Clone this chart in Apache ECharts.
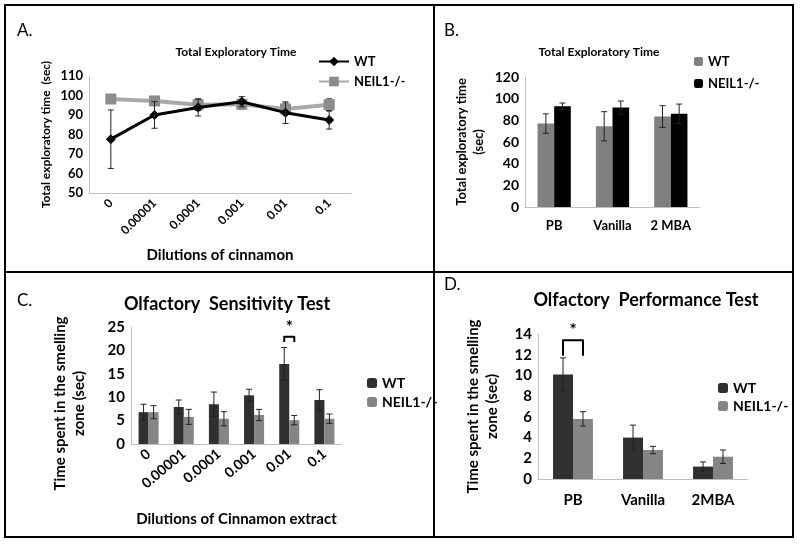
<!DOCTYPE html>
<html>
<head>
<meta charset="utf-8">
<script src="https://cdn.jsdelivr.net/npm/echarts@6/dist/echarts.min.js"></script>
<style>
  html, body { margin: 0; background: #fff; }
  #main { width: 800px; height: 544px; }
</style>
</head>
<body>
<div id="main"></div>
<script>
  // categories
  var dilutions = ['0', '0.00001', '0.0001', '0.001', '0.01', '0.1'];
  var odorsB = ['PB', 'Vanilla', '2 MBA'];
  var odorsD = ['PB', 'Vanilla', '2MBA'];

  // A. total exploratory time, dilutions of cinnamon
  var aWt = [77.6, 90, 93.8, 96.8, 91.2, 87.4];
  var aWtErr = [15, 6.8, 4.3, 2.6, 5.5, 4.6];
  var aKo = [98.2, 97.2, 95.3, 95.5, 93.1, 95.3];
  var aKoErr = [2, 2, 3, 2.5, 3, 3];

  // B. total exploratory time, odors
  var bWt = [77, 74.5, 83.5];
  var bWtErr = [9, 13.5, 10];
  var bKo = [93, 91.8, 86];
  var bKoErr = [3, 6, 9];

  // C. olfactory sensitivity
  var cWt = [6.8, 7.9, 8.5, 10.4, 17.1, 9.4];
  var cWtErr = [1.7, 1.5, 2.6, 1.3, 3.5, 2.2];
  var cKo = [6.8, 5.8, 5.4, 6.2, 5.1, 5.4];
  var cKoErr = [1.4, 1.6, 1.5, 1.2, 1.0, 1.0];

  // D. olfactory performance
  var dWt = [10.1, 4.0, 1.2];
  var dWtErr = [1.6, 1.2, 0.45];
  var dKo = [5.8, 2.8, 2.15];
  var dKoErr = [0.7, 0.35, 0.65];

  // significance brackets: [category index, bracket top, leg end]
  var cSig = [[4, 22.9, 21.8]];
  var dSig = [[0, 13.4, 11.9]];

  var FONT = 'Lato';
  var GAP = 0.43;

  function withErr(vals, errs) {
    return vals.map(function (v, i) { return [i, v, errs[i]]; });
  }

  // side: -1 left bar, 1 right bar, 0 centred (line)
  function errBars(side, cap) {
    return function (params, api) {
      var x = api.value(0), v = api.value(1), e = api.value(2);
      var band = api.size([1, 0])[0];
      var off = side * band * (1 - GAP) / 4;
      var hi = api.coord([x, v + e]);
      var lo = api.coord([x, v - e]);
      var cx = hi[0] + off;
      var st = { stroke: '#222', lineWidth: 1 };
      return {
        type: 'group',
        children: [
          { type: 'line', shape: { x1: cx, y1: hi[1], x2: cx, y2: lo[1] }, style: st },
          { type: 'line', shape: { x1: cx - cap, y1: hi[1], x2: cx + cap, y2: hi[1] }, style: st },
          { type: 'line', shape: { x1: cx - cap, y1: lo[1], x2: cx + cap, y2: lo[1] }, style: st }
        ]
      };
    };
  }

  function sigRender(params, api) {
    var x = api.value(0);
    var band = api.size([1, 0])[0];
    var bw = band * (1 - GAP) / 2;
    var top = api.coord([x, api.value(1)]);
    var leg = api.coord([x, api.value(2)]);
    var x1 = top[0] - bw / 2, x2 = top[0] + bw / 2;
    return {
      type: 'group',
      children: [
        {
          type: 'polyline',
          shape: { points: [[x1, leg[1]], [x1, top[1]], [x2, top[1]], [x2, leg[1]]] },
          style: { stroke: '#000', lineWidth: 2, fill: null, lineJoin: 'round' }
        },
        {
          type: 'text',
          style: {
            text: '*', x: (x1 + x2) / 2, y: top[1] - 1, align: 'center', verticalAlign: 'bottom',
            font: 'bold 17px ' + FONT, fill: '#000'
          }
        }
      ]
    };
  }

  function catAxis(grid, data, size, rotate, margin, name, nameGap) {
    return {
      type: 'category', gridIndex: grid, data: data,
      axisLine: { lineStyle: { color: '#c0c0c0', width: 1 } },
      axisTick: { show: false },
      axisLabel: { color: '#000', fontFamily: FONT, fontWeight: 'bold', fontSize: size, rotate: rotate, margin: margin, interval: 0 },
      name: name, nameLocation: 'middle', nameGap: nameGap,
      nameTextStyle: { color: '#000', fontFamily: FONT, fontWeight: 'bold', fontSize: 15 }
    };
  }

  function valAxis(grid, min, max, step, size, name, nameGap, nameSize, pad) {
    return {
      type: 'value', gridIndex: grid, min: min, max: max, interval: step,
      axisLine: { show: true, lineStyle: { color: '#c0c0c0', width: 1 } },
      axisTick: { show: false },
      splitLine: { show: false },
      axisLabel: { color: '#000', fontFamily: FONT, fontWeight: 'bold', fontSize: size, margin: 6 },
      name: name, nameLocation: 'middle', nameRotate: 90, nameGap: nameGap,
      nameTextStyle: {
        color: '#000', fontFamily: FONT, fontWeight: 'bold', fontSize: nameSize,
        lineHeight: nameSize + 4, padding: pad || 0
      }
    };
  }

  function legendOf(names, left, top, w, h, gap, size) {
    return {
      data: names, orient: 'vertical', left: left, top: top,
      itemWidth: w, itemHeight: h, itemGap: gap, selectedMode: false,
      formatter: function (n) { return n.slice(2); },
      textStyle: { color: '#000', fontFamily: FONT, fontWeight: 'bold', fontSize: size }
    };
  }

  function title(text, left, top, size, weight, align) {
    return {
      text: text, left: left, top: top, textAlign: align || 'left', padding: 0,
      textStyle: { color: '#000', fontFamily: FONT, fontSize: size, fontWeight: weight }
    };
  }

  var chart = echarts.init(document.getElementById('main'));

  var option = {
    animation: false,
    backgroundColor: '#fff',
    title: [
      title('A.', 17, 22, 17, 'normal'),
      title('Total Exploratory Time', 236, 46, 12, 'bold', 'center'),
      title('B.', 444, 22, 17, 'normal'),
      title('Total Exploratory Time', 599, 46, 12, 'bold', 'center'),
      title('C.', 17, 292, 17, 'normal'),
      title('Olfactory  Sensitivity Test', 227, 295, 18, 'bold', 'center'),
      title('D.', 444, 276, 17, 'normal'),
      title('Olfactory  Performance Test', 646, 291, 18, 'bold', 'center')
    ],
    legend: [
      legendOf(['a:WT', 'a:NEIL1-/-'], 313, 50, 30, 12, 7, 13),
      legendOf(['b:WT', 'b:NEIL1-/-'], 689, 50, 9, 9, 9, 13),
      legendOf(['c:WT', 'c:NEIL1-/-'], 362, 371, 10, 10, 5, 14),
      legendOf(['d:WT', 'd:NEIL1-/-'], 713, 376, 10, 10, 4, 14)
    ],
    grid: [
      { left: 89, top: 76, width: 262, height: 117 },
      { left: 525, top: 77, width: 175, height: 130 },
      { left: 131, top: 327, width: 211, height: 117 },
      { left: 538, top: 334, width: 210, height: 145 }
    ],
    xAxis: [
      catAxis(0, dilutions, 12, 45, 8, 'Dilutions of cinnamon', 55),
      catAxis(1, odorsB, 13, 0, 12, '', 0),
      catAxis(2, dilutions, 14, 40, 8, 'Dilutions of Cinnamon extract', 68),
      catAxis(3, odorsD, 15, 0, 14, '', 0)
    ],
    yAxis: [
      valAxis(0, 50, 110, 10, 13, 'Total exploratory time  (sec)', 35, 12),
      valAxis(1, 0, 120, 20, 14, 'Total exploratory time\n(sec)', 38, 13),
      valAxis(2, 0, 25, 5, 15, 'Time spent in the smelling\nzone (sec)', 42, 15, [0, 36, 0, 0]),
      valAxis(3, 0, 14, 2, 15, 'Time spent in the smelling\nzone (sec)', 36, 15)
    ],
    series: [
      // A
      {
        name: 'a:WT', type: 'line', xAxisIndex: 0, yAxisIndex: 0, data: aWt,
        symbol: 'diamond', symbolSize: 10, z: 4,
        lineStyle: { color: '#000', width: 3 }, itemStyle: { color: '#000' }
      },
      {
        name: 'a:NEIL1-/-', type: 'line', xAxisIndex: 0, yAxisIndex: 0, data: aKo,
        symbol: 'rect', symbolSize: 11, z: 3,
        lineStyle: { color: '#a9a9a9', width: 4 }, itemStyle: { color: '#8c8c8c' }
      },
      { type: 'custom', xAxisIndex: 0, yAxisIndex: 0, data: withErr(aWt, aWtErr), renderItem: errBars(0, 3), z: 5 },
      { type: 'custom', xAxisIndex: 0, yAxisIndex: 0, data: withErr(aKo, aKoErr), renderItem: errBars(0, 3), z: 2 },
      // B
      {
        name: 'b:WT', type: 'bar', xAxisIndex: 1, yAxisIndex: 1, data: bWt,
        barGap: '0%', barCategoryGap: '43%', itemStyle: { color: '#808080' }
      },
      {
        name: 'b:NEIL1-/-', type: 'bar', xAxisIndex: 1, yAxisIndex: 1, data: bKo,
        barGap: '0%', barCategoryGap: '43%', itemStyle: { color: '#000' }
      },
      { type: 'custom', xAxisIndex: 1, yAxisIndex: 1, data: withErr(bWt, bWtErr), renderItem: errBars(-1, 3), z: 5 },
      { type: 'custom', xAxisIndex: 1, yAxisIndex: 1, data: withErr(bKo, bKoErr), renderItem: errBars(1, 3), z: 5 },
      // C
      {
        name: 'c:WT', type: 'bar', xAxisIndex: 2, yAxisIndex: 2, data: cWt,
        barGap: '0%', barCategoryGap: '43%', itemStyle: { color: '#303030' }
      },
      {
        name: 'c:NEIL1-/-', type: 'bar', xAxisIndex: 2, yAxisIndex: 2, data: cKo,
        barGap: '0%', barCategoryGap: '43%', itemStyle: { color: '#858585' }
      },
      { type: 'custom', xAxisIndex: 2, yAxisIndex: 2, data: withErr(cWt, cWtErr), renderItem: errBars(-1, 3), z: 5 },
      { type: 'custom', xAxisIndex: 2, yAxisIndex: 2, data: withErr(cKo, cKoErr), renderItem: errBars(1, 3), z: 5 },
      { type: 'custom', xAxisIndex: 2, yAxisIndex: 2, data: cSig, renderItem: sigRender, z: 6 },
      // D
      {
        name: 'd:WT', type: 'bar', xAxisIndex: 3, yAxisIndex: 3, data: dWt,
        barGap: '0%', barCategoryGap: '43%', itemStyle: { color: '#303030' }
      },
      {
        name: 'd:NEIL1-/-', type: 'bar', xAxisIndex: 3, yAxisIndex: 3, data: dKo,
        barGap: '0%', barCategoryGap: '43%', itemStyle: { color: '#858585' }
      },
      { type: 'custom', xAxisIndex: 3, yAxisIndex: 3, data: withErr(dWt, dWtErr), renderItem: errBars(-1, 3), z: 5 },
      { type: 'custom', xAxisIndex: 3, yAxisIndex: 3, data: withErr(dKo, dKoErr), renderItem: errBars(1, 3), z: 5 },
      { type: 'custom', xAxisIndex: 3, yAxisIndex: 3, data: dSig, renderItem: sigRender, z: 6 }
    ],
    // panel frames
    graphic: [
      { type: 'rect', shape: { x: 5, y: 5, width: 788, height: 532 }, style: { stroke: '#000', lineWidth: 2, fill: null }, z: 100 },
      { type: 'line', shape: { x1: 434, y1: 5, x2: 434, y2: 537 }, style: { stroke: '#000', lineWidth: 2 }, z: 100 },
      { type: 'line', shape: { x1: 5, y1: 272, x2: 793, y2: 272 }, style: { stroke: '#000', lineWidth: 2 }, z: 100 }
    ]
  };

  chart.setOption(option);
</script>
</body>
</html>
